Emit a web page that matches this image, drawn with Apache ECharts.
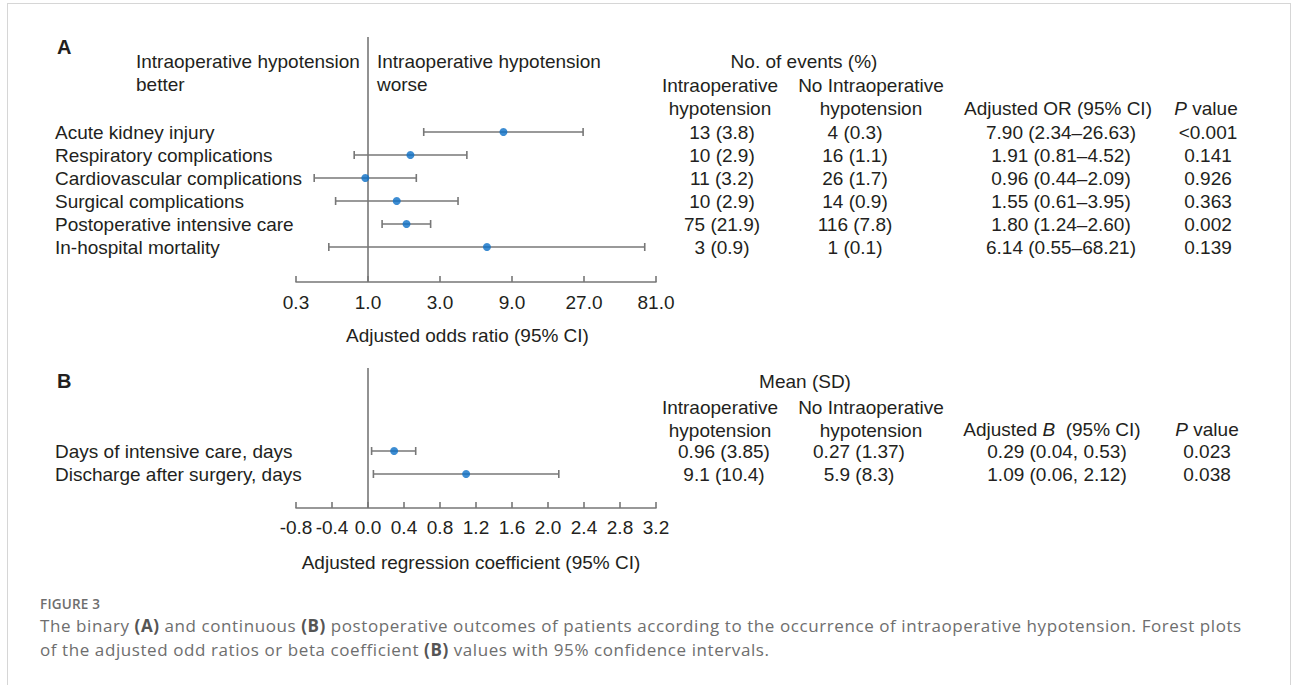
<!DOCTYPE html>
<html>
<head>
<meta charset="utf-8">
<script src="https://cdn.jsdelivr.net/npm/echarts@6/dist/echarts.min.js"></script>
<style>
body { margin: 0; background: #fff; }
#frame { position: absolute; left: 7px; top: 3px; width: 1282px; height: 720px; border: 1px solid #d6d6d6; border-bottom: none; }
#main { position: absolute; left: 0; top: 0; width: 1293px; height: 685px; }
#cap { position: absolute; left: 40px; top: 594px; font-family: 'Open Sans', sans-serif; color: #6e6e6e; }
#cap .fig { font-size: 13.5px; font-weight: 600; letter-spacing: 0.2px; line-height: 20px; }
#cap .txt { font-size: 17px; letter-spacing: 0.58px; line-height: 24px; }
#cap b { font-weight: 700; color: #555; }
</style>
</head>
<body>
<div id="frame"></div>
<div id="main"></div>
<div id="cap">
  <div class="fig">FIGURE 3</div>
  <div class="txt">The binary <b>(A)</b> and continuous <b>(B)</b> postoperative outcomes of patients according to the occurrence of intraoperative hypotension. Forest plots<br>of the adjusted odd ratios or beta coefficient <b>(B)</b> values with 95% confidence intervals.</div>
</div>
<script>
// panel A: binary outcomes
var outcomesA = ['Acute kidney injury', 'Respiratory complications', 'Cardiovascular complications',
    'Surgical complications', 'Postoperative intensive care', 'In-hospital mortality'];
var orA = [7.90, 1.91, 0.96, 1.55, 1.80, 6.14];
var orLowA = [2.34, 0.81, 0.44, 0.61, 1.24, 0.55];
var orHighA = [26.63, 4.52, 2.09, 3.95, 2.60, 68.21];
var eventsIohA = ['13 (3.8)', '10 (2.9)', '11 (3.2)', '10 (2.9)', '75 (21.9)', '3 (0.9)'];
var eventsNoIohA = ['4 (0.3)', '16 (1.1)', '26 (1.7)', '14 (0.9)', '116 (7.8)', '1 (0.1)'];
var pA = ['<0.001', '0.141', '0.926', '0.363', '0.002', '0.139'];

// panel B: continuous outcomes
var outcomesB = ['Days of intensive care, days', 'Discharge after surgery, days'];
var coefB = [0.29, 1.09];
var coefLowB = [0.04, 0.06];
var coefHighB = [0.53, 2.12];
var meanIohB = ['0.96 (3.85)', '9.1 (10.4)'];
var meanNoIohB = ['0.27 (1.37)', '5.9 (8.3)'];
var pB = ['0.023', '0.038'];

var FONT = 'Liberation Sans, Arial, sans-serif';
var FS = 19;
var TXT = '#231f20';
var LINE = '#777777';
var DOT = '#0b6fc7';

var orTextA = orA.map(function (v, i) {
    return v.toFixed(2) + ' (' + orLowA[i].toFixed(2) + '\u2013' + orHighA[i].toFixed(2) + ')';
});
var coefTextB = coefB.map(function (v, i) {
    return v.toFixed(2) + ' (' + coefLowB[i].toFixed(2) + ', ' + coefHighB[i].toFixed(2) + ')';
});

var dom = document.getElementById('main');
var myChart = echarts.init(dom, null, { renderer: 'svg' });

function whisker(params, api) {
    var a = api.coord([api.value(0), api.value(2)]);
    var b = api.coord([api.value(1), api.value(2)]);
    var h = 4;
    var st = { stroke: LINE, lineWidth: 1.6 };
    return {
        type: 'group',
        children: [
            { type: 'line', shape: { x1: a[0], y1: a[1], x2: b[0], y2: b[1] }, style: st },
            { type: 'line', shape: { x1: a[0], y1: a[1] - h, x2: a[0], y2: a[1] + h }, style: st },
            { type: 'line', shape: { x1: b[0], y1: b[1] - h, x2: b[0], y2: b[1] + h }, style: st }
        ]
    };
}

function rowAxis(grid, data, margin, align, pos) {
    return {
        type: 'category', gridIndex: grid, data: data, inverse: true, position: pos,
        axisLine: { show: false }, axisTick: { show: false },
        axisLabel: { interval: 0, margin: margin, align: align, fontSize: FS, color: TXT, fontFamily: FONT }
    };
}

function txt(x, y, s, align, extra) {
    var o = {
        type: 'text', x: x, y: y,
        style: { text: s, fontSize: FS, fontFamily: FONT, fill: TXT, align: align || 'center', verticalAlign: 'middle',
            rich: { i: { fontStyle: 'italic', fontSize: FS, fontFamily: FONT, fill: TXT } } }
    };
    if (extra) Object.assign(o.style, extra);
    return o;
}

var headers = [
    txt(57, 47, 'A', 'left', { fontWeight: 'bold', fontSize: 20 }),
    txt(136, 61, 'Intraoperative hypotension', 'left'),
    txt(136, 84, 'better', 'left'),
    txt(377, 61, 'Intraoperative hypotension', 'left'),
    txt(377, 84, 'worse', 'left'),
    txt(804, 61, 'No. of events (%)'),
    txt(720, 85, 'Intraoperative'),
    txt(720, 108, 'hypotension'),
    txt(871, 85, 'No Intraoperative'),
    txt(871, 108, 'hypotension'),
    txt(1058, 108, 'Adjusted OR (95% CI)'),
    txt(1206, 108, '{i|P} value'),

    txt(57, 381, 'B', 'left', { fontWeight: 'bold', fontSize: 20 }),
    txt(805, 381, 'Mean (SD)'),
    txt(720, 407, 'Intraoperative'),
    txt(720, 430, 'hypotension'),
    txt(871, 407, 'No Intraoperative'),
    txt(871, 430, 'hypotension'),
    txt(1052, 429, 'Adjusted {i|B}  (95% CI)'),
    txt(1207, 429, '{i|P} value')
];

var axisLineStyle = { show: true, lineStyle: { color: LINE, width: 1.6 } };
var axisTickStyle = { show: true, inside: true, length: 6, lineStyle: { color: LINE, width: 1.6 } };

option = {
    animation: false,
    grid: [
        { left: 296, width: 360, top: 120.5, height: 138 },
        { left: 296, width: 360, top: 439.5, height: 46 }
    ],
    xAxis: [
        {
            type: 'log', logBase: 3, min: 1 / 3, max: 81, gridIndex: 0, offset: 23.5,
            axisLine: axisLineStyle, axisTick: axisTickStyle,
            splitLine: { show: false }, minorTick: { show: false },
            axisLabel: { margin: 11, fontSize: FS, color: TXT, fontFamily: FONT,
                formatter: function (v) { return (+v).toFixed(1); } },
            name: 'Adjusted odds ratio (95% CI)', nameLocation: 'middle', nameGap: 44,
            nameTextStyle: { fontSize: FS, color: TXT, fontFamily: FONT, padding: [0, 17, 0, 0] }
        },
        {
            type: 'value', min: -0.8, max: 3.2, interval: 0.4, gridIndex: 1, offset: 22.5,
            axisLine: axisLineStyle, axisTick: axisTickStyle,
            splitLine: { show: false },
            axisLabel: { margin: 10, fontSize: FS, color: TXT, fontFamily: FONT,
                formatter: function (v) { return (+v).toFixed(1); } },
            name: 'Adjusted regression coefficient (95% CI)', nameLocation: 'middle', nameGap: 45,
            nameTextStyle: { fontSize: FS, color: TXT, fontFamily: FONT, padding: [0, 10, 0, 0] }
        }
    ],
    yAxis: [
        rowAxis(0, outcomesA, 241, 'left', 'left'),
        rowAxis(0, eventsIohA, 66, 'center', 'right'),
        rowAxis(0, eventsNoIohA, 199, 'center', 'right'),
        rowAxis(0, orTextA, 405, 'center', 'right'),
        rowAxis(0, pA, 552, 'center', 'right'),
        rowAxis(1, outcomesB, 241, 'left', 'left'),
        rowAxis(1, meanIohB, 68, 'center', 'right'),
        rowAxis(1, meanNoIohB, 203, 'center', 'right'),
        rowAxis(1, coefTextB, 401, 'center', 'right'),
        rowAxis(1, pB, 551, 'center', 'right')
    ],
    series: [
        {
            type: 'custom', xAxisIndex: 0, yAxisIndex: 0, renderItem: whisker,
            encode: { x: [0, 1], y: 2 },
            data: orLowA.map(function (v, i) { return [v, orHighA[i], i]; })
        },
        {
            type: 'scatter', xAxisIndex: 0, yAxisIndex: 0, symbolSize: 8, z: 5,
            itemStyle: { color: DOT },
            data: orA.map(function (v, i) { return [v, i]; })
        },
        {
            type: 'custom', xAxisIndex: 1, yAxisIndex: 5, renderItem: whisker,
            encode: { x: [0, 1], y: 2 },
            data: coefLowB.map(function (v, i) { return [v, coefHighB[i], i]; })
        },
        {
            type: 'scatter', xAxisIndex: 1, yAxisIndex: 5, symbolSize: 8, z: 5,
            itemStyle: { color: DOT },
            data: coefB.map(function (v, i) { return [v, i]; })
        }
    ],
    graphic: headers
};

if (option && typeof option === "object") {
    myChart.setOption(option, true);
    // reference lines at OR = 1 and B = 0, running from panel top to axis
    var xa = myChart.convertToPixel({ xAxisIndex: 0 }, 1);
    var xb = myChart.convertToPixel({ xAxisIndex: 1 }, 0);
    var refs = [
        { type: 'line', shape: { x1: xa, y1: 37, x2: xa, y2: 282 }, style: { stroke: LINE, lineWidth: 1.6 } },
        { type: 'line', shape: { x1: xb, y1: 368, x2: xb, y2: 508 }, style: { stroke: LINE, lineWidth: 1.6 } }
    ];
    myChart.setOption({ graphic: headers.concat(refs) });
}
</script>
</body>
</html>
